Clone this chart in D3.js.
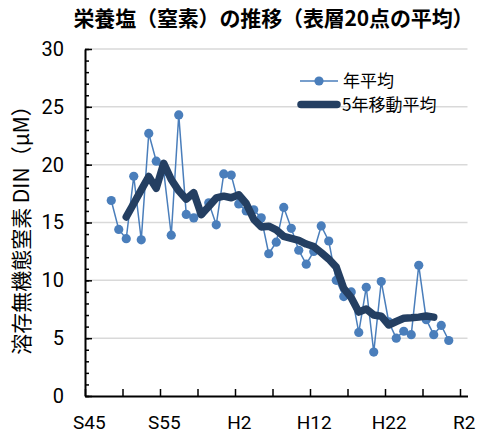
<!DOCTYPE html>
<html><head><meta charset="utf-8">
<script src="https://cdn.jsdelivr.net/npm/d3@7"></script>
<style>
html,body{margin:0;padding:0;background:#fff;}
svg{display:block;}
</style></head>
<body>
<svg id="c" width="478" height="436"></svg>
<script>
const title = "栄養塩（窒素）の推移（表層20点の平均）";
const yTitle = "溶存無機態窒素 DIN（μM）";
const years = d3.range(1973, 2019);
const annual = [16.9,14.4,13.6,19.0,13.5,22.7,20.3,19.4,13.9,24.3,
  15.7,15.4,15.8,16.7,14.8,19.2,19.1,16.6,16.0,16.1,
  15.4,12.3,13.3,16.3,14.5,12.6,11.4,12.5,14.7,13.4,
  10.0,8.6,9.0,5.5,9.4,3.8,9.9,6.4,5.0,5.6,
  5.3,11.3,6.6,5.3,6.1,4.8];
const maYears = d3.range(1975, 2017);
const movingAvg = [15.48,16.64,17.82,18.98,17.96,20.12,18.72,17.74,17.02,17.58,
  15.68,16.38,17.12,17.28,17.14,17.40,16.64,15.28,14.62,14.68,
  14.36,13.80,13.62,13.46,13.14,12.92,12.40,11.84,11.14,9.30,
  8.50,7.26,7.52,7.00,6.90,6.14,6.44,6.72,6.76,6.82,6.92,6.82];
const labelYears = [1970,1980,1990,2000,2010,2020];
const labelNames = ["S45","S55","H2","H12","H22","R2"];
const yTicks = [0,5,10,15,20,25,30];
const seriesNames = ["年平均","5年移動平均"];

const svg = d3.select("#c");
const x = d3.scaleLinear().domain([1969.5, 2020.5]).range([85, 467.5]);
const y = d3.scaleLinear().domain([0, 30]).range([396, 49]);
const cjk = "'Noto Sans CJK JP','Noto Sans',sans-serif";
const num = "Roboto,'Noto Sans',sans-serif";
const blue = "#4a7ebb", navy = "#243f62";

// gridlines
svg.append("g").selectAll("line").data(yTicks.filter(d=>d>0)).join("line")
  .attr("x1", x.range()[0]).attr("x2", x.range()[1])
  .attr("y1", d=>y(d)).attr("y2", d=>y(d))
  .attr("stroke", "#d9d9d9").attr("stroke-width", 1.5);

// title
svg.append("text").attr("x", 273.5).attr("y", 26).attr("text-anchor","middle")
  .attr("font-family", cjk).attr("font-weight","bold").attr("font-size",21)
  .attr("textLength", 400).attr("lengthAdjust","spacing")
  .attr("fill","#000").text(title);

// y title
svg.append("text").attr("transform","translate(29,225) rotate(-90)")
  .attr("text-anchor","middle").attr("font-family", cjk).attr("font-size",21)
  .attr("fill","#000").text(yTitle);

// y axis minor ticks
const yMinor = svg.append("g").attr("transform","translate(85,0)")
  .call(d3.axisLeft(y).tickValues(d3.range(0,31,1)).tickSize(-4).tickFormat(""));
yMinor.select(".domain").remove();
yMinor.selectAll("line").attr("stroke","#000").attr("stroke-width",1.5);

// y axis major
const yAx = svg.append("g").attr("transform","translate(85,0)")
  .call(d3.axisLeft(y).tickValues(yTicks).tickSize(-7).tickPadding(21).tickSizeOuter(0));
yAx.select(".domain").attr("stroke","#000").attr("stroke-width",2);
yAx.selectAll(".tick line").attr("stroke","#000").attr("stroke-width",1.5);
yAx.selectAll("text").attr("font-family", num).attr("font-size",20).attr("fill","#000");

// x axis ticks
const xAx = svg.append("g").attr("transform","translate(0,396)")
  .call(d3.axisBottom(x).tickValues(d3.range(1969.5, 2020, 5)).tickSize(-7).tickSizeOuter(0).tickFormat(""));
xAx.select(".domain").attr("stroke","#000").attr("stroke-width",2);
xAx.selectAll(".tick line").attr("stroke","#000").attr("stroke-width",1.5);

// x labels
const xLab = svg.append("g").attr("transform","translate(0,396)")
  .call(d3.axisBottom(x).tickValues(labelYears).tickSize(0).tickPadding(20)
    .tickFormat((d,i)=>labelNames[i]));
xLab.select(".domain").remove();
xLab.selectAll("text").attr("font-family", num).attr("font-size",19).attr("fill","#000");

// annual series
const annData = years.map((yr,i)=>({yr, v: annual[i]}));
svg.append("path").datum(annData)
  .attr("d", d3.line().x(d=>x(d.yr)).y(d=>y(d.v)))
  .attr("fill","none").attr("stroke", blue).attr("stroke-width",1.5);
svg.append("g").selectAll("circle").data(annData).join("circle")
  .attr("cx", d=>x(d.yr)).attr("cy", d=>y(d.v)).attr("r",4.6)
  .attr("fill", blue);

// moving average
const maData = maYears.map((yr,i)=>({yr, v: movingAvg[i]}));
svg.append("path").datum(maData)
  .attr("d", d3.line().x(d=>x(d.yr)).y(d=>y(d.v)))
  .attr("fill","none").attr("stroke", navy).attr("stroke-width",7.5)
  .attr("stroke-linejoin","round").attr("stroke-linecap","round");

// legend
const lg = svg.append("g");
lg.append("line").attr("x1",300).attr("x2",338).attr("y1",81).attr("y2",81)
  .attr("stroke",blue).attr("stroke-width",1.5);
lg.append("circle").attr("cx",319).attr("cy",81).attr("r",4.6).attr("fill",blue);
lg.append("text").attr("x",343).attr("y",87).attr("font-family",cjk).attr("font-size",17)
  .attr("fill","#000").text(seriesNames[0]);
lg.append("line").attr("x1",301).attr("x2",337).attr("y1",104.5).attr("y2",104.5)
  .attr("stroke",navy).attr("stroke-width",7.5).attr("stroke-linecap","round");
lg.append("text").attr("x",342).attr("y",110.5).attr("font-family",cjk).attr("font-size",17)
  .attr("fill","#000").text(seriesNames[1]);
</script>
</body></html>
